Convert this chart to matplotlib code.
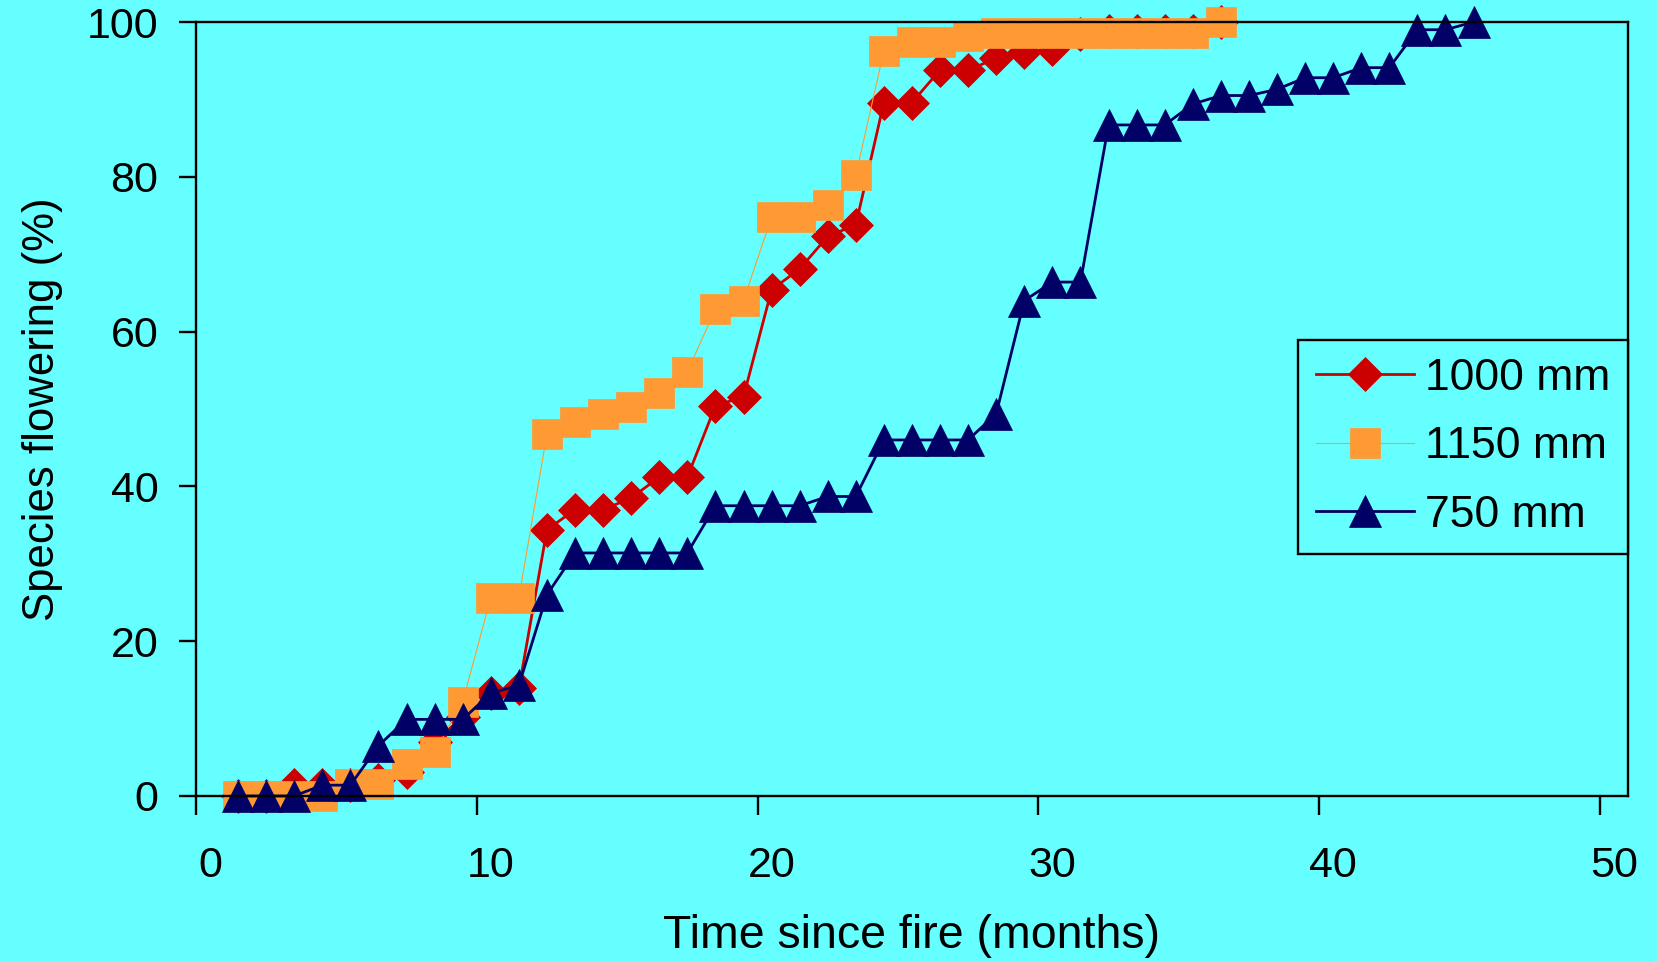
import matplotlib
matplotlib.use("Agg")
import matplotlib.pyplot as plt
import matplotlib.transforms as mtransforms

plt.rcParams['font.family'] = ['Liberation Sans', 'DejaVu Sans']

# months since fire for each survey
months_750 = [1.5, 2.5, 3.5, 4.5, 5.5, 6.5, 7.5, 8.5, 9.5, 10.5,
              11.5, 12.5, 13.5, 14.5, 15.5, 16.5, 17.5, 18.5, 19.5, 20.5,
              21.5, 22.5, 23.5, 24.5, 25.5, 26.5, 27.5, 28.5, 29.5, 30.5,
              31.5, 32.5, 33.5, 34.5, 35.5, 36.5, 37.5, 38.5, 39.5, 40.5,
              41.5, 42.5, 43.5, 44.5, 45.5]
months_1000 = months_750[:36]
months_1150 = months_750[:36]

# species flowering (%)
pct_1000 = [0, 0, 1.4, 1.4, 1.4, 2.1, 3.1, 7.0, 10.2, 13.3,
            13.9, 34.4, 37.0, 37.0, 38.5, 41.2, 41.2, 50.4, 51.6, 65.4,
            68.1, 72.3, 73.8, 89.6, 89.6, 93.8, 93.8, 95.3, 96.1, 96.5,
            98.5, 98.8, 98.8, 98.8, 98.8, 100]
pct_1150 = [0, 0, 0, 0, 1.5, 1.5, 4.1, 5.7, 12.2, 25.6,
            25.6, 46.8, 48.3, 49.4, 50.2, 52.1, 54.8, 62.9, 64.0, 74.8,
            74.8, 76.3, 80.2, 96.3, 97.4, 97.4, 98.2, 98.6, 98.6, 98.6,
            98.6, 98.6, 98.6, 98.6, 98.6, 100]
pct_750 = [0, 0, 0, 1.4, 1.4, 6.5, 9.9, 9.9, 9.9, 13.3,
           14.3, 26.0, 31.4, 31.4, 31.4, 31.4, 31.4, 37.5, 37.5, 37.5,
           37.5, 38.7, 38.7, 46.0, 46.0, 46.0, 46.0, 49.4, 64.0, 66.4,
           66.4, 86.7, 86.7, 86.7, 89.4, 90.5, 90.5, 91.3, 92.8, 92.8,
           94.1, 94.1, 99.0, 99.0, 100]

labels = ['1000 mm', '1150 mm', '750 mm']
bg = '#66FFFF'

fig = plt.figure(figsize=(16.58, 9.61), dpi=100, facecolor=bg)
ax = fig.add_axes([0.1182, 0.1717, 0.8637, 0.8054], facecolor=bg)

ax.plot(months_1000, pct_1000, color='#CC0000', lw=2.0, marker='D', ms=17,
        mec='#CC0000', mew=0.5, clip_on=False, label=labels[0])
ax.plot(months_1150, pct_1150, color='#FF9933', lw=0.8, marker='s', ms=21,
        mec='#FF9933', mew=0.5, clip_on=False, label=labels[1])
ax.plot(months_750, pct_750, color='#000066', lw=2.0, marker='^', ms=23,
        mec='#000066', mew=0.5, clip_on=False, label=labels[2])

ax.set_xlim(0, 51)
ax.set_ylim(0, 100)
ax.set_xticks([0, 10, 20, 30, 40, 50])
ax.set_yticks([0, 20, 40, 60, 80, 100])
for sp in ax.spines.values():
    sp.set_linewidth(1.7)
    sp.set_color('black')
ax.tick_params(axis='both', direction='out', width=1.7, labelsize=31, colors='black')
ax.tick_params(axis='x', length=14, pad=22)
ax.tick_params(axis='y', length=12, pad=15)

# x tick labels sit a little right of their ticks in the original
shift = mtransforms.ScaledTranslation(0.14, 0, fig.dpi_scale_trans)
for lbl in ax.get_xticklabels():
    lbl.set_transform(lbl.get_transform() + shift)

ax.set_xlabel('Time since fire (months)', fontsize=33.5, labelpad=20)
ax.set_ylabel('Species flowering (%)', fontsize=31.5, labelpad=17)

leg = ax.legend(loc='upper right', bbox_to_anchor=(1.0, 0.589), borderaxespad=0,
                fontsize=32, frameon=True, fancybox=False, framealpha=1,
                facecolor=bg, edgecolor='black', handlelength=2.2,
                handletextpad=0.25, labelspacing=0.62, borderpad=0.4)
leg.get_frame().set_linewidth(1.7)

fig.savefig('out.png', dpi=100, facecolor=bg)
